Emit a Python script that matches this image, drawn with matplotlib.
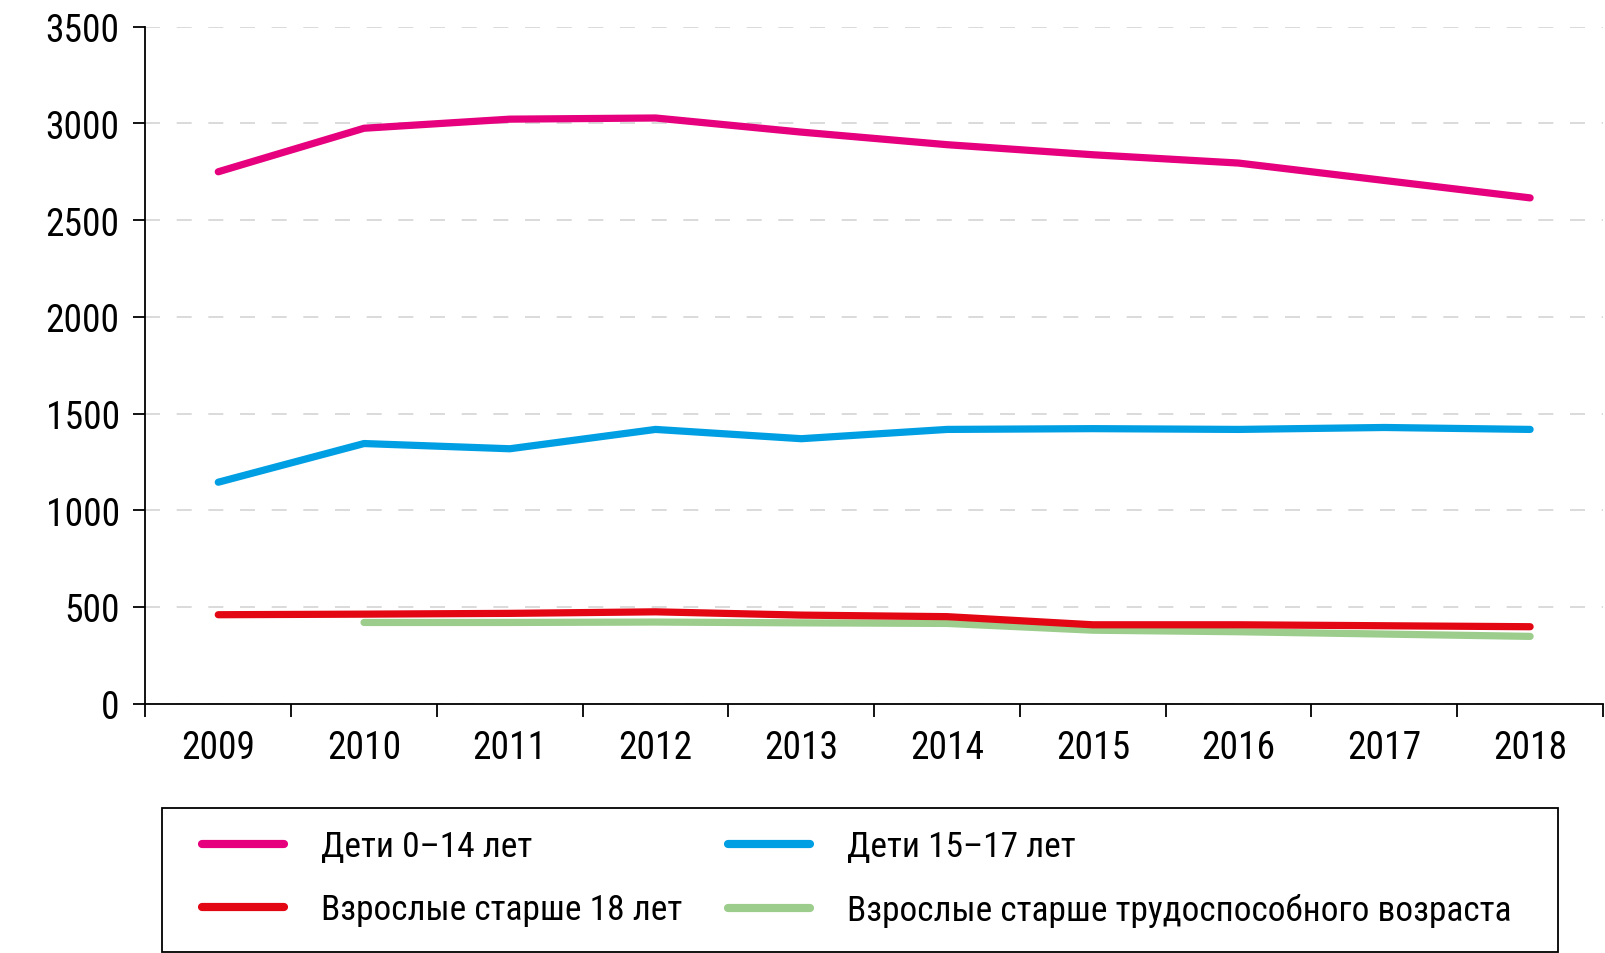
import numpy as np
import matplotlib
matplotlib.use('Agg')
import matplotlib.pyplot as plt
from matplotlib import font_manager as fm
from matplotlib.patches import Rectangle

# Data
years = ['2009', '2010', '2011', '2012', '2013', '2014', '2015', '2016', '2017', '2018']
kids_0_14 = [2750, 2975, 3022, 3028, 2955, 2890, 2838, 2795, 2705, 2615]
kids_15_17 = [1145, 1345, 1318, 1418, 1370, 1418, 1422, 1418, 1428, 1418]
adults_18 = [460, 463, 467, 475, 458, 450, 408, 408, 403, 398]
adults_old = [np.nan, 420, 420, 422, 418, 415, 380, 372, 360, 348]

labels = ['Дети 0–14 лет', 'Дети 15–17 лет',
          'Взрослые старше 18 лет', 'Взрослые старше трудоспособного возраста']
colors = ['#E6007E', '#009FE3', '#E30613', '#9CCD8C']

# the reference uses a condensed face; look for one among installed fonts
narrow = None
for key in ['liberationsansnarrow-regular', 'robotocondensed-regular',
            'dejavusanscondensed.', 'narrow-regular', 'condensed-regular']:
    for f in fm.fontManager.ttflist:
        if key in f.fname.lower().replace('_', '').replace(' ', ''):
            narrow = f
            break
    if narrow is not None:
        break

if narrow is not None:
    plt.rcParams['font.family'] = [narrow.name, 'DejaVu Sans']
    plt.rcParams['font.stretch'] = narrow.stretch
    tsize, lsize = 27, 25.5
else:
    plt.rcParams['font.family'] = ['DejaVu Sans']
    tsize, lsize = 20, 19
plt.rcParams['font.size'] = tsize

W, H = 1606, 954
fig = plt.figure(figsize=(W / 100, H / 100), dpi=100)
ax = fig.add_axes([145.4 / W, 1 - 704.7 / H, (1603 - 145.4) / W, (704.7 - 27.7) / H])

x = np.arange(len(years))
series = [kids_0_14, kids_15_17, adults_18, adults_old]
lines = {}
# draw green first so red sits on top of it
for i in [3, 2, 1, 0]:
    ln, = ax.plot(x, series[i], color=colors[i], lw=5.2,
                  solid_capstyle='round', solid_joinstyle='round', label=labels[i])
    lines[i] = ln

ax.set_xlim(-0.5, len(years) - 0.5)
ax.set_ylim(0, 3500)
ax.set_yticks(np.arange(0, 3501, 500))
ax.set_xticks(x)
ax.set_xticklabels(years)
ax.set_xticks(np.arange(-0.5, len(years)), minor=True)
ax.tick_params(axis='x', which='major', length=0, pad=18)
ax.tick_params(axis='x', which='minor', length=9, width=1.3, direction='out')
ax.tick_params(axis='y', length=9, width=1.3, direction='out', pad=9.5)

ax.grid(axis='y', color='#d4d4d4', linestyle=(0, (9, 10)), lw=1.2)
ax.set_axisbelow(True)
for s in ['top', 'right']:
    ax.spines[s].set_visible(False)
ax.spines['left'].set_linewidth(1.3)
ax.spines['bottom'].set_linewidth(1.3)

# legend frame drawn separately so it matches the reference box
fig.patches.append(Rectangle((161.8 / W, 1 - 952.6 / H), (1558 - 161.8) / W,
                             (952.6 - 809) / H, transform=fig.transFigure,
                             fill=False, edgecolor='black', lw=1.3))

fpx = lsize * 100 / 72
# legend order: column-first fill -> pink, red, blue, green
order = [0, 2, 1, 3]
leg = fig.legend([lines[i] for i in order], [labels[i] for i in order],
                 loc='upper left', bbox_to_anchor=(201.8 / W, 1 - 831.5 / H),
                 ncol=2, frameon=False, borderpad=0, borderaxespad=0,
                 handlelength=82 / fpx, handletextpad=37 / fpx,
                 columnspacing=46 / fpx, labelspacing=0.845, fontsize=lsize)
for h in leg.get_lines():
    h.set_linewidth(5.9)
    h.set_solid_capstyle('round')

fig.savefig('out.png', dpi=100)
